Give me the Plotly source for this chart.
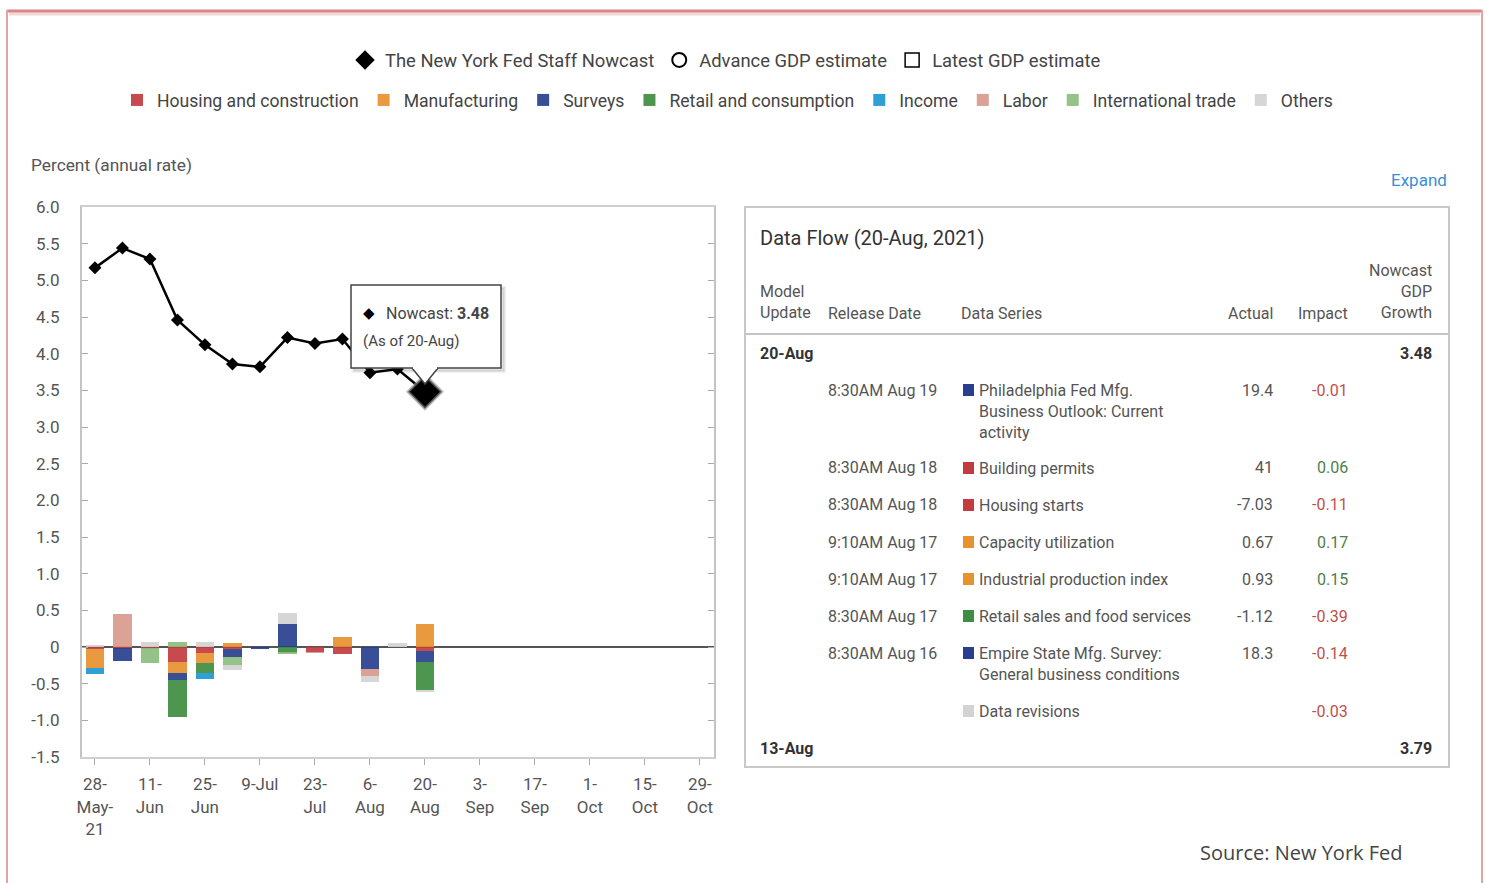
import plotly.graph_objects as go

# ---------------- data ----------------
dates = ["2021-05-28", "2021-06-04", "2021-06-11", "2021-06-18", "2021-06-25", "2021-07-02",
         "2021-07-09", "2021-07-16", "2021-07-23", "2021-07-30", "2021-08-06", "2021-08-13",
         "2021-08-20"]
nowcast = [5.17, 5.44, 5.29, 4.46, 4.12, 3.86, 3.82, 4.22, 4.14, 4.20, 3.74, 3.79, 3.48]

categories = ["Housing and construction", "Manufacturing", "Surveys", "Retail and consumption",
              "Income", "Labor", "International trade", "Others"]
cat_colors = ["#c23b3f", "#e8922e", "#283f8f", "#3f8d42", "#1c98d5", "#d99a8c", "#8dbd7c", "#d3d3d3"]

housing = [-0.03, -0.02, -0.02, -0.20, -0.08, -0.03, 0, 0, -0.07, -0.10, 0, 0, -0.05]
manufacturing = [-0.25, 0, 0, -0.15, -0.14, 0.06, 0, 0, 0, 0.13, 0, 0, 0.32]
surveys = [0, -0.17, 0, -0.10, 0, -0.11, -0.03, 0.31, 0, 0, -0.30, 0, -0.15]
retail = [0, 0, 0, -0.50, -0.14, 0, 0, -0.08, 0, 0, 0, 0, -0.39]
income = [-0.09, 0, 0, 0, -0.08, 0, 0, 0, 0, 0, 0, 0, 0]
labor = [0, 0.45, 0, 0, 0, 0, 0, 0, -0.01, 0, -0.09, 0, 0]
intl_trade = [0, 0, -0.20, 0.07, 0, -0.11, 0, -0.02, 0, 0, 0, 0, 0]
others = [0.03, 0, 0.07, 0, 0.07, -0.07, 0, 0.16, 0, 0, -0.09, 0.06, -0.03]
cat_values = [housing, manufacturing, surveys, retail, income, labor, intl_trade, others]

x_tickvals = ["2021-05-28", "2021-06-11", "2021-06-25", "2021-07-09", "2021-07-23", "2021-08-06",
              "2021-08-20", "2021-09-03", "2021-09-17", "2021-10-01", "2021-10-15", "2021-10-29"]
x_ticktext = ["28-<br>May-<br>21", "11-<br>Jun", "25-<br>Jun", "9-Jul", "23-<br>Jul", "6-<br>Aug",
              "20-<br>Aug", "3-<br>Sep", "17-<br>Sep", "1-<br>Oct", "15-<br>Oct", "29-<br>Oct"]
y_tickvals = [6.0, 5.5, 5.0, 4.5, 4.0, 3.5, 3.0, 2.5, 2.0, 1.5, 1.0, 0.5, 0, -0.5, -1.0, -1.5]
y_ticktext = ["6.0", "5.5", "5.0", "4.5", "4.0", "3.5", "3.0", "2.5", "2.0", "1.5", "1.0", "0.5",
              "0", "-0.5", "-1.0", "-1.5"]

# data flow table
table_title = "Data Flow (20-Aug, 2021)"
update_latest = "20-Aug"
nowcast_latest = "3.48"
update_prev = "13-Aug"
nowcast_prev = "3.79"
release_dates = ["8:30AM Aug 19", "8:30AM Aug 18", "8:30AM Aug 18", "9:10AM Aug 17",
                 "9:10AM Aug 17", "8:30AM Aug 17", "8:30AM Aug 16", ""]
series_names = ["Philadelphia Fed Mfg.<br>Business Outlook: Current<br>activity", "Building permits",
                "Housing starts", "Capacity utilization", "Industrial production index",
                "Retail sales and food services", "Empire State Mfg. Survey:<br>General business conditions",
                "Data revisions"]
series_cat = [2, 0, 0, 1, 1, 3, 2, 7]
actuals = ["19.4", "41", "-7.03", "0.67", "0.93", "-1.12", "18.3", ""]
impacts = [-0.01, 0.06, -0.11, 0.17, 0.15, -0.39, -0.14, -0.03]

# ---------------- layout helpers (pixel -> paper) ----------------
L, R, T, B = 82, 714, 207, 757
W, H = 1488, 883


def PX(x):
    return (x - L) / (R - L)


def PY(y):
    return (B - y) / (B - T)


F = "Roboto, Liberation Sans, sans-serif"
DAY = 86400000
TS = 16  # table font size

fig = go.Figure()

for name, vals, col in zip(categories, cat_values, cat_colors):
    fig.add_trace(go.Bar(x=dates, y=vals, name=name, marker=dict(color=col, line=dict(width=0)),
                         width=4.7 * DAY, legend="legend2", opacity=0.92))

fig.add_trace(go.Scatter(x=dates, y=nowcast, mode="lines+markers", showlegend=False,
                         line=dict(color="black", width=2.5),
                         marker=dict(symbol="diamond", size=10, color="black")))
fig.add_trace(go.Scatter(x=dates[-1:], y=nowcast[-1:], mode="markers", showlegend=False,
                         marker=dict(symbol="diamond", size=26, color="black",
                                     line=dict(color="rgba(140,140,140,0.6)", width=3))))

# legend-only entries
fig.add_trace(go.Scatter(x=[None], y=[None], mode="markers", name="The New York Fed Staff Nowcast",
                         marker=dict(symbol="diamond", size=15, color="black")))
fig.add_trace(go.Scatter(x=[None], y=[None], mode="markers", name="Advance GDP estimate",
                         marker=dict(symbol="circle-open", size=14, color="black", line=dict(width=2))))
fig.add_trace(go.Scatter(x=[None], y=[None], mode="markers", name="Latest GDP estimate",
                         marker=dict(symbol="square-open", size=14, color="black", line=dict(width=1.5))))

shapes = []
annotations = []


def txt(x, y, s, size=TS, color="#444", anchor="left", family=F, yanchor="middle"):
    annotations.append(dict(x=PX(x), y=PY(y), xref="paper", yref="paper", text=s, showarrow=False,
                            xanchor=anchor, yanchor=yanchor, align=anchor if anchor != "center" else "center",
                            font=dict(size=size, color=color, family=family)))


def rect(x0, y0, x1, y1, line="#ccc", width=2, fill=None, layer="above"):
    shapes.append(dict(type="rect", xref="paper", yref="paper", x0=PX(x0), x1=PX(x1), y0=PY(y0), y1=PY(y1),
                       line=dict(color=line, width=width), fillcolor=fill, layer=layer))


def hline(x0, x1, y, color, width):
    shapes.append(dict(type="line", xref="paper", yref="paper", x0=PX(x0), x1=PX(x1), y0=PY(y), y1=PY(y),
                       line=dict(color=color, width=width)))


def vline(x, y0, y1, color, width):
    shapes.append(dict(type="line", xref="paper", yref="paper", x0=PX(x), x1=PX(x), y0=PY(y0), y1=PY(y1),
                       line=dict(color=color, width=width)))


# outer frame
hline(7, 1482, 11, "#d98585", 3)
hline(9, 1480, 14, "rgba(220,140,140,0.35)", 3)
vline(7, 10, 883, "#e3a3a3", 2)
vline(1482, 10, 883, "#e3a3a3", 2)

# texts around chart
txt(29, 165, "Percent (annual rate)", size=17.3, color="#555")
txt(1449, 180, "Expand", size=17, color="#3b8fd2", anchor="right")
txt(1405, 852, "Source: New York Fed", size=20, color="#444", anchor="right", family="Open Sans, sans-serif")

# tooltip
rect(354, 288, 504, 371, line="rgba(0,0,0,0.12)", width=3, fill="rgba(0,0,0,0.06)", layer="above")
rect(351, 285, 501, 368, line="#444", width=1.5, fill="white", layer="above")
shapes.append(dict(type="path", xref="paper", yref="paper", layer="above",
                   path=f"M{PX(412)},{PY(368)} L{PX(425)},{PY(384)} L{PX(438)},{PY(368)}",
                   line=dict(color="#444", width=1.5), fillcolor="white"))
hline(413, 437, 368, "white", 2)
txt(361, 313, "◆", size=15, color="black")
txt(384, 313, "Nowcast: <b>%.2f</b>" % nowcast[-1], size=16, color="#444")
txt(361, 341, "(As of 20-Aug)", size=15, color="#444")

# data flow table
rect(745, 207, 1449, 767, line="#c8c8c8", width=2)
hline(746, 1448, 334, "#c4c4c4", 2)
txt(758, 238, table_title, size=20, color="#333")
txt(758, 302, "Model<br>Update", color="#555")
txt(826, 313, "Release Date", color="#555")
txt(959, 313, "Data Series", color="#555")
txt(1275, 313, "Actual", color="#555", anchor="right")
txt(1350, 313, "Impact", color="#555", anchor="right")
txt(1434, 291, "Nowcast<br>GDP<br>Growth", color="#555", anchor="right")
txt(758, 353, "<b>" + update_latest + "</b>", color="#333")
txt(1434, 353, "<b>" + nowcast_latest + "</b>", color="#333", anchor="right")
txt(758, 748, "<b>" + update_prev + "</b>", color="#333")
txt(1434, 748, "<b>" + nowcast_prev + "</b>", color="#333", anchor="right")

row_y = [390, 468, 505, 542, 579, 616, 653, 711]
for ry, rd, sn, ci, ac, im in zip(row_y, release_dates, series_names, series_cat, actuals, impacts):
    if rd:
        txt(826, ry, rd, color="#555")
    rect(963, ry - 6, 974, ry + 6, line=cat_colors[ci], width=0, fill=cat_colors[ci])
    annotations.append(dict(x=PX(977), y=PY(ry - 11), xref="paper", yref="paper", text=sn, showarrow=False,
                            xanchor="left", yanchor="top", align="left",
                            font=dict(size=TS, color="#555", family=F)))
    if ac:
        txt(1275, ry, ac, color="#555", anchor="right")
    txt(1350, ry, "%.2f" % im, color=("#c0504d" if im < 0 else "#4c7f4c"), anchor="right")

fig.update_layout(
    width=W, height=H, autosize=False,
    margin=dict(l=L, r=W - R, t=T, b=H - B, pad=0),
    paper_bgcolor="white", plot_bgcolor="white",
    barmode="relative", bargap=0,
    shapes=shapes, annotations=annotations,
    font=dict(family=F, color="#555"),
    legend=dict(orientation="h", x=PX(1106), xanchor="right", y=PY(60), yanchor="middle",
                font=dict(size=18.4, family=F, color="#444"), itemwidth=30, bgcolor="rgba(0,0,0,0)",
                itemclick=False),
    legend2=dict(orientation="h", x=PX(1338), xanchor="right", y=PY(100), yanchor="middle",
                 font=dict(size=17.6, family=F, color="#444"), itemwidth=30, bgcolor="rgba(0,0,0,0)",
                 itemclick=False),
    xaxis=dict(type="date", range=["2021-05-24 17:00", "2021-11-01 14:00"], tickmode="array",
               tickvals=x_tickvals, ticktext=x_ticktext, ticks="outside", ticklen=6, tickcolor="#aaa",
               showgrid=False, showline=True, linecolor="#cfcfcf", linewidth=2, mirror=True,
               ticklabelstandoff=5,
               tickfont=dict(size=17, family=F, color="#555"), zeroline=False),
    yaxis=dict(range=[-1.5, 6.0], tickmode="array", tickvals=y_tickvals, ticktext=y_ticktext,
               ticks="inside", ticklen=6, tickcolor="#aaa", showgrid=False, showline=True,
               linecolor="#c4c4c4", linewidth=2, mirror="ticks", ticklabelstandoff=17,
               tickfont=dict(size=17, family=F, color="#555"),
               zeroline=True, zerolinecolor="#555", zerolinewidth=2),
    hovermode=False,
)

fig.write_html("out.html")
